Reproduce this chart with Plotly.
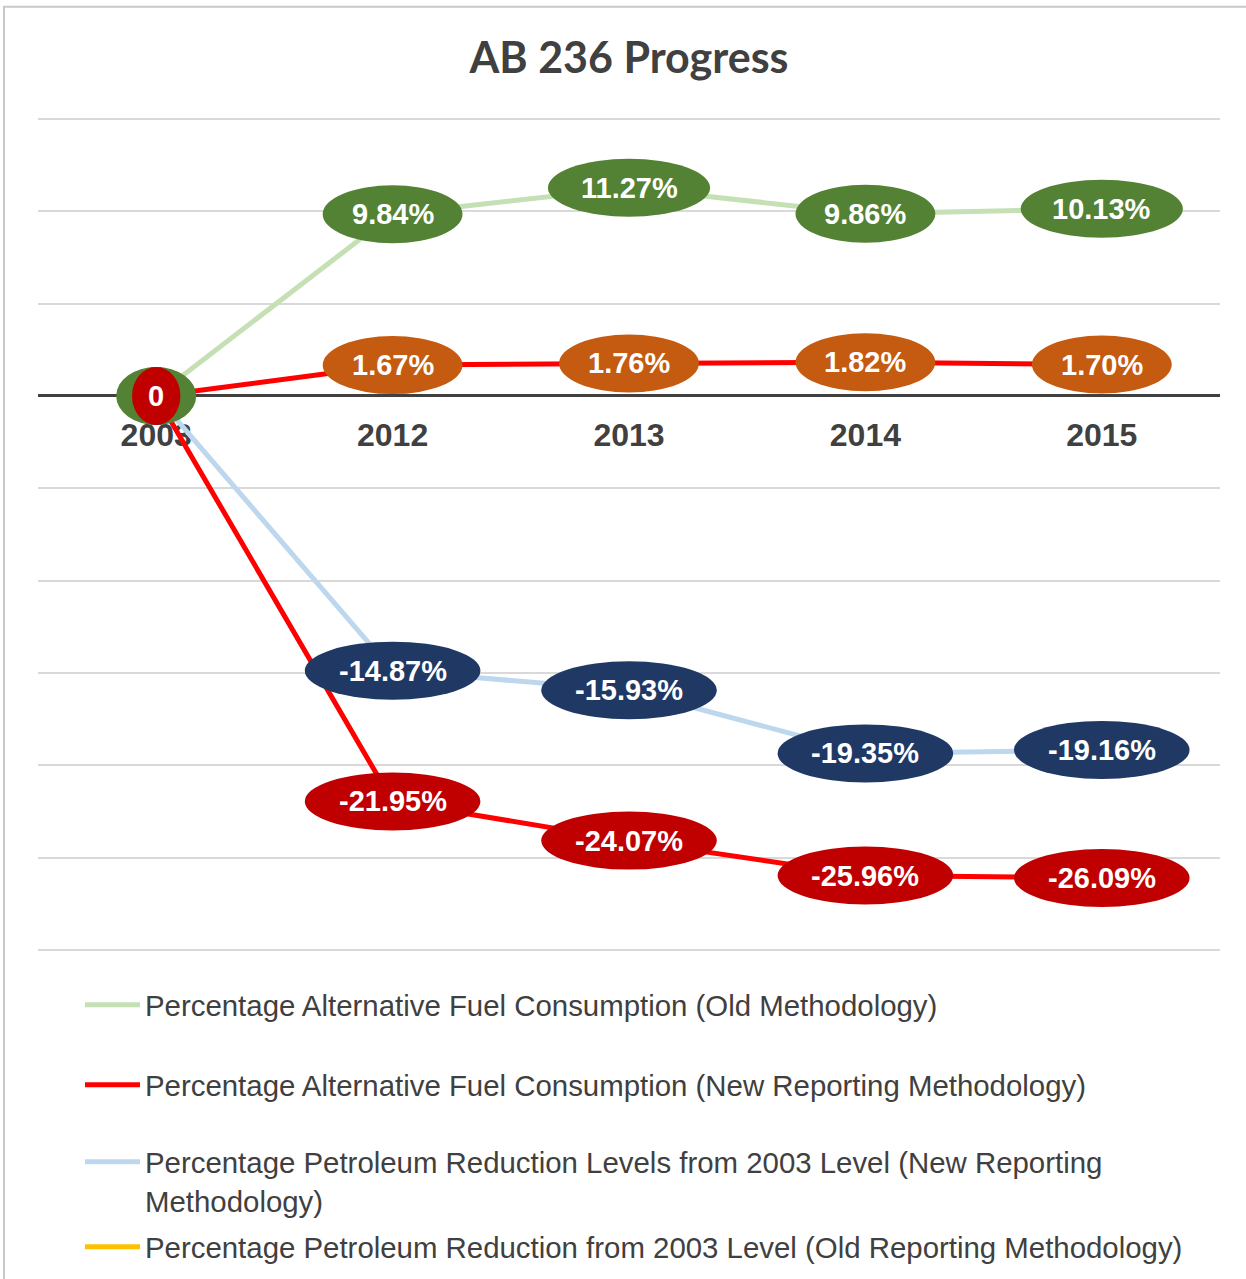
import plotly.graph_objects as go

# ---------------- data ----------------
years = ["2003", "2012", "2013", "2014", "2015"]
alt_fuel_old = [0, 9.84, 11.27, 9.86, 10.13]
alt_fuel_new = [0, 1.67, 1.76, 1.82, 1.70]
petro_red_new = [0, -14.87, -15.93, -19.35, -19.16]
petro_red_old = [0, -21.95, -24.07, -25.96, -26.09]

series_names = [
    "Percentage Alternative Fuel Consumption (Old Methodology)",
    "Percentage Alternative Fuel Consumption (New Reporting Methodology)",
    "Percentage Petroleum Reduction Levels from 2003 Level (New Reporting<br>Methodology)",
    "Percentage Petroleum Reduction from 2003 Level (Old Reporting Methodology)",
]

# ---------------- styles ----------------
W, H = 1246, 1279
GRID_TOP_PX, GRID_BOT_PX = 119, 950      # pixel rows of the 15 and -30 gridlines
GMIN, GMAX = -30, 15
PAD = 0.1                                 # keep edge gridlines inside plot area
PX_PER_UNIT = (GRID_BOT_PX - GRID_TOP_PX) / (GMAX - GMIN)
YMIN, YMAX = GMIN - PAD, GMAX + PAD
T_PX = GRID_TOP_PX - PAD * PX_PER_UNIT
B_PX = GRID_BOT_PX + PAD * PX_PER_UNIT
L_PX, R_PX = 38, 1220

line_colors = ["#c5e0b4", "#ff0000", "#bdd7ee", "#ff0000"]
legend_colors = ["#c5e0b4", "#ff0000", "#bdd7ee", "#ffc000"]
label_colors = ["#548235", "#c55a11", "#1f3864", "#c00000"]
TXT = "#404040"
LABEL_FONT = 29
ARIAL = "Liberation Sans, Arial, sans-serif"

all_series = [alt_fuel_old, alt_fuel_new, petro_red_new, petro_red_old]


def px_to_paper_x(px):
    return (px - L_PX) / (R_PX - L_PX)


def px_to_paper_y(py):
    return (B_PX - py) / (B_PX - T_PX)


CHAR_W = {".": 0.278, "%": 0.889, "-": 0.333}


def label_text(v):
    return "0" if v == 0 else f"{v:.2f}%"


def ellipse_w(text):
    tw = sum(CHAR_W.get(c, 0.556) for c in text) * LABEL_FONT
    return 1.385 * tw + 26


fig = go.Figure()

# data lines
for i, ys in enumerate(all_series):
    fig.add_trace(go.Scatter(
        x=years, y=ys, mode="lines",
        line=dict(color=line_colors[i], width=5),
        name=series_names[i],
        showlegend=(i < 3),
        legend=["legend", "legend2", "legend3", "legend4"][i],
        hoverinfo="skip",
    ))

# legend proxy for the fourth series (legend shows a gold swatch)
fig.add_trace(go.Scatter(
    x=[None], y=[None], mode="lines",
    line=dict(color=legend_colors[3], width=5),
    name=series_names[3], legend="legend4", showlegend=True,
))

# data-label ellipses & texts; draw order so the 2003 stack matches
draw_order = [1, 2, 0, 3]
top_series = 3
for s in draw_order:
    ys = all_series[s]
    for i, v in enumerate(ys):
        txt = label_text(v)
        w = ellipse_w(txt)
        if v == 0 and s == 0:
            w = 80
        fig.add_shape(
            type="circle", xref="x", yref="y",
            xsizemode="pixel", ysizemode="pixel",
            xanchor=i, yanchor=v,
            x0=-w / 2, x1=w / 2, y0=-29, y1=29,
            fillcolor=label_colors[s], line=dict(width=0), layer="above",
        )
for s in draw_order:
    ys = all_series[s]
    for i, v in enumerate(ys):
        if v == 0 and s != top_series:
            continue
        fig.add_annotation(
            x=i, y=v, xref="x", yref="y", text=label_text(v), showarrow=False,
            font=dict(family=ARIAL, size=LABEL_FONT, color="white", weight="bold"),
            xanchor="center", yanchor="middle",
        )

# outer frame (left & top edges visible)
fig.add_shape(
    type="path", xref="paper", yref="paper",
    path=(f"M {px_to_paper_x(4)} {px_to_paper_y(1279)} "
          f"L {px_to_paper_x(4)} {px_to_paper_y(7)} "
          f"L {px_to_paper_x(1246)} {px_to_paper_y(7)}"),
    line=dict(color="#c9c9c9", width=2), layer="above",
)

zero_pos = (0 - YMIN) / (YMAX - YMIN)

leg_x = px_to_paper_x(80)
legend_common = dict(
    x=leg_x, xanchor="left", yanchor="middle",
    font=dict(family=ARIAL, size=29.4, color=TXT),
    bgcolor="rgba(0,0,0,0)", itemwidth=55, valign="top",
    itemclick=False, itemdoubleclick=False,
)

fig.update_layout(
    width=W, height=H,
    margin=dict(l=L_PX, r=W - R_PX, t=T_PX, b=H - B_PX, pad=0, autoexpand=False),
    paper_bgcolor="white", plot_bgcolor="white",
    title=dict(
        text="AB 236 Progress", x=0.5, xref="paper", xanchor="center",
        y=1 - 58 / H, yref="container", yanchor="middle",
        font=dict(family="Lato, Open Sans, sans-serif", size=43, color=TXT, weight="bold"),
    ),
    xaxis=dict(
        type="category", range=[-0.5, 4.5], showgrid=False, zeroline=False,
        showline=False, ticks="", anchor="free", position=zero_pos,
        tickfont=dict(family=ARIAL, size=32, color=TXT, weight="bold"),
        ticklabelstandoff=17, layer="below traces",
    ),
    yaxis=dict(
        range=[YMIN, YMAX], tick0=0, dtick=5, showticklabels=False,
        showgrid=True, gridcolor="#d9d9d9", gridwidth=1.5,
        zeroline=True, zerolinecolor=TXT, zerolinewidth=3, showline=False,
    ),
    legend=dict(y=px_to_paper_y(1005), **legend_common),
    legend2=dict(y=px_to_paper_y(1085), **legend_common),
    legend3=dict(y=px_to_paper_y(1181), **legend_common),
    legend4=dict(y=px_to_paper_y(1247), **legend_common),
    showlegend=True,
)

fig.write_html(
    "out.html",
    config={"displayModeBar": False},
    post_script="document.body.style.margin='0';",
)
